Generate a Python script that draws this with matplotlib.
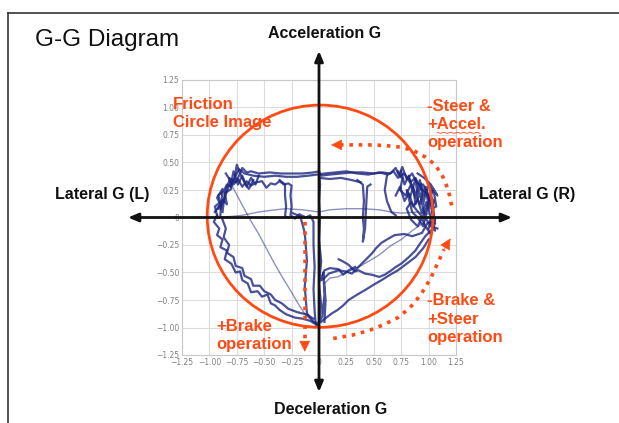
import matplotlib
matplotlib.use("Agg")
import matplotlib.pyplot as plt
from matplotlib.lines import Line2D
from matplotlib.patches import Ellipse

# ── chart values (G units) ──────────────────────────────────────────
TICKS = [-1.25, -1.0, -0.75, -0.5, -0.25, 0.0, 0.25, 0.5, 0.75, 1.0, 1.25]
TICK_LABELS = ["\u22121.25", "\u22121.00", "\u22120.75", "\u22120.50", "\u22120.25", "0",
               "0.25", "0.50", "0.75", "1.00", "1.25"]

# hand-traced pieces of the logged G-G trace
UPPER_LOOP = [(-0.93, 0.02), (-0.95, 0.10), (-0.90, 0.14), (-0.92, 0.20), (-0.87, 0.24),
              (-0.84, 0.30), (-0.80, 0.28), (-0.77, 0.36), (-0.75, 0.48), (-0.72, 0.40),
              (-0.70, 0.45), (-0.66, 0.41), (-0.62, 0.42), (-0.55, 0.40), (-0.45, 0.41),
              (-0.35, 0.40), (-0.25, 0.40), (-0.15, 0.40), (-0.05, 0.41), (0.0, 0.42),
              (0.02, 0.38), (0.10, 0.39), (0.20, 0.40), (0.30, 0.41), (0.40, 0.41),
              (0.50, 0.40), (0.58, 0.41), (0.65, 0.40), (0.70, 0.45), (0.73, 0.38),
              (0.76, 0.46), (0.80, 0.35), (0.85, 0.40), (0.90, 0.30), (0.95, 0.30),
              (1.00, 0.20), (1.05, 0.15), (1.03, 0.05), (1.06, -0.02), (1.02, -0.08),
              (1.08, -0.10)]
UPPER_LOOP2 = [(-0.90, 0.08), (-0.86, 0.18), (-0.83, 0.27), (-0.78, 0.34), (-0.73, 0.44),
               (-0.68, 0.40), (-0.60, 0.38), (-0.50, 0.37), (-0.40, 0.38), (-0.30, 0.37),
               (-0.20, 0.37), (-0.10, 0.38), (-0.02, 0.39), (0.05, 0.40), (0.15, 0.41),
               (0.25, 0.42), (0.35, 0.40), (0.45, 0.39), (0.55, 0.41), (0.63, 0.39),
               (0.68, 0.42), (0.72, 0.36), (0.78, 0.40), (0.83, 0.32), (0.88, 0.36),
               (0.93, 0.26), (0.98, 0.22), (1.02, 0.12), (1.04, 0.0)]
MID_BAND = [(-0.88, 0.05), (-0.86, 0.22), (-0.82, 0.33), (-0.78, 0.30), (-0.74, 0.35),
            (-0.70, 0.28), (-0.66, 0.33), (-0.62, 0.29), (-0.57, 0.32), (-0.52, 0.33),
            (-0.48, 0.27), (-0.44, 0.31), (-0.40, 0.30), (-0.36, 0.33), (-0.32, 0.30),
            (-0.28, 0.31), (-0.25, 0.29), (-0.26, 0.20), (-0.25, 0.10), (-0.26, 0.02),
            (-0.22, -0.01), (-0.18, 0.03), (-0.12, 0.00), (-0.08, 0.02), (-0.05, -0.04),
            (-0.05, -0.25), (-0.04, -0.45), (-0.05, -0.65), (-0.04, -0.85), (-0.03, -0.97),
            (0.0, -0.99)]
LEFT_STEP = [(-0.36, 0.34), (-0.31, 0.30), (-0.31, 0.20), (-0.30, 0.10), (-0.31, 0.01),
             (-0.28, 0.0)]
LOW_ARC = [(-0.92, 0.00), (-0.80, 0.01), (-0.70, 0.02), (-0.55, 0.05), (-0.40, 0.07),
           (-0.30, 0.08), (-0.15, 0.07), (0.0, 0.05), (0.10, 0.07), (0.25, 0.08),
           (0.40, 0.08), (0.55, 0.07), (0.66, 0.05), (0.75, 0.04), (0.90, 0.05), (1.0, 0.03)]
DIAGONAL = [(-0.80, 0.30), (-0.72, 0.15), (-0.64, 0.0), (-0.55, -0.15), (-0.47, -0.30),
            (-0.40, -0.43), (-0.33, -0.55), (-0.25, -0.68), (-0.18, -0.80), (-0.12, -0.89),
            (-0.06, -0.94), (0.0, -0.96)]
LEFT_OUTER = [(-0.93, 0.02), (-0.96, -0.04), (-0.91, -0.10), (-0.93, -0.16), (-0.88, -0.20),
              (-0.90, -0.27), (-0.84, -0.30), (-0.86, -0.38), (-0.80, -0.42), (-0.76, -0.50),
              (-0.72, -0.49), (-0.70, -0.57), (-0.65, -0.60), (-0.62, -0.68), (-0.56, -0.67),
              (-0.52, -0.72), (-0.47, -0.70), (-0.44, -0.78), (-0.40, -0.80), (-0.36, -0.84),
              (-0.30, -0.88), (-0.22, -0.91), (-0.15, -0.92), (-0.08, -0.94), (-0.03, -0.97),
              (0.0, -1.0)]
LEFT_INNER = [(-0.88, -0.02), (-0.85, -0.10), (-0.87, -0.18), (-0.82, -0.25), (-0.84, -0.32),
              (-0.78, -0.36), (-0.76, -0.44), (-0.70, -0.46), (-0.68, -0.53), (-0.62, -0.56),
              (-0.60, -0.62), (-0.54, -0.62), (-0.50, -0.67), (-0.44, -0.70), (-0.40, -0.75),
              (-0.34, -0.78), (-0.28, -0.83), (-0.20, -0.86), (-0.12, -0.88), (-0.05, -0.92)]
CENTER_SPIKE = [(0.0, 0.40), (0.01, 0.30), (0.0, 0.15), (0.01, 0.0), (0.0, -0.20),
                (0.02, -0.40), (0.0, -0.60), (0.02, -0.80), (0.0, -0.95), (0.03, -0.90),
                (0.05, -0.70), (0.04, -0.50), (0.06, -0.75), (0.05, -0.95)]
CENTER_LEFT = [(-0.24, 0.04), (-0.17, 0.01), (-0.13, -0.14), (-0.11, -0.39), (-0.13, -0.63),
               (-0.11, -0.87), (-0.05, -0.95), (0.0, -0.97)]
CENTER_BUMP = [(0.02, -0.55), (0.05, -0.48), (0.10, -0.46), (0.18, -0.47), (0.22, -0.52),
               (0.27, -0.48), (0.33, -0.45)]
RIGHT_A = [(1.05, -0.05), (0.99, -0.05), (0.94, -0.14), (0.85, -0.17), (0.78, -0.15),
           (0.69, -0.16), (0.62, -0.20), (0.57, -0.23), (0.52, -0.28), (0.48, -0.33),
           (0.43, -0.38), (0.39, -0.42), (0.34, -0.47), (0.30, -0.51), (0.24, -0.49),
           (0.18, -0.48), (0.12, -0.50), (0.09, -0.51), (0.05, -0.55), (0.02, -0.57)]
RIGHT_B = [(1.02, -0.12), (0.97, -0.17), (0.92, -0.24), (0.88, -0.30), (0.82, -0.36),
           (0.75, -0.42), (0.70, -0.45), (0.66, -0.48), (0.60, -0.52), (0.55, -0.54),
           (0.48, -0.52), (0.42, -0.51), (0.36, -0.48), (0.33, -0.49), (0.27, -0.43),
           (0.22, -0.40), (0.18, -0.38)]
RIGHT_C = [(1.00, -0.20), (0.95, -0.28), (0.88, -0.36), (0.80, -0.42), (0.72, -0.48),
           (0.65, -0.52), (0.57, -0.57), (0.50, -0.61), (0.42, -0.66), (0.35, -0.70),
           (0.27, -0.75), (0.22, -0.80), (0.17, -0.84), (0.12, -0.87), (0.08, -0.90),
           (0.04, -0.93), (0.02, -0.95)]
RIGHT_FAINT = [(0.05, -0.60), (0.10, -0.55), (0.17, -0.54), (0.25, -0.50), (0.36, -0.45),
               (0.45, -0.40), (0.55, -0.34), (0.65, -0.26), (0.75, -0.20), (0.85, -0.12),
               (0.95, -0.05)]
RIGHT_STEP = [(0.35, 0.34), (0.40, 0.30), (0.41, 0.15), (0.40, 0.0), (0.41, -0.10),
              (0.40, -0.22), (0.42, -0.10), (0.43, 0.10), (0.44, 0.28), (0.47, 0.30)]
RIGHT_STEP2 = [(0.62, 0.38), (0.60, 0.25), (0.62, 0.15), (0.66, 0.05), (0.70, 0.02)]
UPPER_RIGHT2 = [(0.0, 0.36), (0.10, 0.35), (0.20, 0.36), (0.30, 0.34), (0.38, 0.32)]
RIGHT_CLUSTER = [(0.75, 0.42), (0.78, 0.30), (0.82, 0.38), (0.85, 0.25), (0.88, 0.35),
                 (0.90, 0.20), (0.93, 0.30), (0.95, 0.12), (0.98, 0.25), (1.00, 0.08),
                 (1.03, 0.18), (1.05, 0.02), (1.02, -0.05), (1.06, -0.12), (0.98, -0.02),
                 (0.95, 0.08), (0.92, 0.22), (0.88, 0.12), (0.86, 0.28), (0.83, 0.18),
                 (0.80, 0.25), (0.85, 0.05), (0.90, 0.0), (0.95, -0.08), (1.00, 0.12),
                 (1.04, 0.26), (1.08, 0.20), (1.02, 0.30), (0.96, 0.36), (0.90, 0.40)]
RIGHT_CLUSTER2 = [(0.70, 0.20), (0.74, 0.28), (0.78, 0.15), (0.82, 0.22), (0.86, 0.10),
                  (0.90, 0.16), (0.94, 0.04), (0.98, 0.14), (1.02, 0.00), (1.00, -0.10)]
RIGHT_CLUSTER3 = [(0.72, 0.42), (0.76, 0.35), (0.74, 0.25), (0.79, 0.20), (0.84, 0.30),
                  (0.88, 0.18), (0.92, 0.34), (0.96, 0.20), (1.00, 0.30), (1.05, 0.22),
                  (1.07, 0.10), (1.03, 0.08), (1.06, -0.05), (1.02, -0.15), (0.97, -0.08),
                  (0.93, 0.02), (0.88, 0.08), (0.84, 0.14), (0.80, 0.08), (0.84, -0.02),
                  (0.90, -0.08), (0.96, 0.04), (1.01, 0.16), (0.97, 0.28), (0.92, 0.12),
                  (0.87, 0.24), (0.82, 0.36)]
LEFT_CLUSTER = [(-0.85, 0.40), (-0.80, 0.32), (-0.78, 0.42), (-0.74, 0.30), (-0.70, 0.38),
                (-0.66, 0.28), (-0.62, 0.36), (-0.58, 0.30), (-0.55, 0.38)]
LEFT_CLUSTER2 = [(-0.95, 0.05), (-0.90, 0.12), (-0.93, 0.18), (-0.88, 0.26), (-0.90, 0.02)]
LEFT_CLUSTER3 = [(-0.92, 0.08), (-0.88, 0.16), (-0.84, 0.12), (-0.86, 0.22), (-0.80, 0.26),
                 (-0.82, 0.36), (-0.76, 0.32), (-0.72, 0.40), (-0.68, 0.32), (-0.64, 0.26),
                 (-0.60, 0.34)]

DARK_TRACES = [UPPER_LOOP, UPPER_LOOP2, MID_BAND, LEFT_STEP, LEFT_OUTER, LEFT_INNER,
               CENTER_SPIKE, CENTER_LEFT, CENTER_BUMP, RIGHT_A, RIGHT_B, RIGHT_C,
               RIGHT_STEP, RIGHT_STEP2, UPPER_RIGHT2, RIGHT_CLUSTER, RIGHT_CLUSTER2,
               RIGHT_CLUSTER3, LEFT_CLUSTER, LEFT_CLUSTER2, LEFT_CLUSTER3]
FAINT_TRACES = [LOW_ARC, DIAGONAL, RIGHT_FAINT]

# friction circle (centre x, centre y, radius x, radius y)
CIRCLE = (0.01, 0.012, 1.03, 1.01)

# dotted operation arrows: path points, then the arrow tip
ARC_ACCEL = [(1.21, 0.11), (1.18, 0.25), (1.13, 0.37), (1.06, 0.48), (0.97, 0.55),
             (0.86, 0.61), (0.74, 0.64), (0.60, 0.655), (0.45, 0.66), (0.30, 0.66), (0.18, 0.66)]
ARC_ACCEL_TIP = (0.11, 0.66)
ARC_STEER = [(0.13, -1.10), (0.30, -1.07), (0.45, -1.03), (0.60, -0.97), (0.72, -0.91),
             (0.83, -0.82), (0.93, -0.70), (1.02, -0.55), (1.09, -0.40), (1.14, -0.29)]
ARC_STEER_TIP = (1.20, -0.19)
BRAKE_LINE = [(-0.13, -0.04), (-0.13, -1.13)]
BRAKE_TIP = (-0.13, -1.22)

# spell-check squiggle under "Accel"
SQUIGGLE_X = [1.08, 1.11, 1.14, 1.17, 1.20, 1.23, 1.26, 1.29, 1.32, 1.35, 1.38, 1.41, 1.44, 1.47]
SQUIGGLE_Y = [0.775, 0.765, 0.775, 0.765, 0.775, 0.765, 0.775, 0.765, 0.775, 0.765, 0.775,
              0.765, 0.775, 0.765]

RED = "#ff4a14"
NAVY = "#1c2580"

W, H = 619, 423
fig = plt.figure(figsize=(W / 100, H / 100), dpi=100)
fig.patch.set_facecolor("white")


def fx(px):
    return px / W


def fy(py):
    return 1 - py / H


ax = fig.add_axes([fx(182), fy(355), (456 - 182) / W, (355 - 80) / H])
ax.set_xlim(-1.25, 1.25)
ax.set_ylim(-1.25, 1.25)
ax.set_xticks(TICKS)
ax.set_yticks(TICKS)
ax.set_xticklabels(TICK_LABELS)
ax.set_yticklabels(TICK_LABELS)
ax.tick_params(length=0, labelsize=5.5, labelcolor="#808080", pad=2)
ax.grid(True, color="#dcdcdc", lw=0.8)
for sp in ax.spines.values():
    sp.set_color("#c8c8c8")
    sp.set_linewidth(0.8)
ax.set_axisbelow(True)

# trace
for tr in FAINT_TRACES:
    xs, ys = zip(*tr)
    ax.plot(xs, ys, color=NAVY, lw=1.0, alpha=0.5, zorder=3)
for tr in DARK_TRACES:
    xs, ys = zip(*tr)
    ax.plot(xs, ys, color=NAVY, lw=1.6, alpha=0.8, zorder=3)

# friction circle
cx, cy, rx, ry = CIRCLE
ax.add_patch(Ellipse((cx, cy), 2 * rx, 2 * ry, fill=False, ec=RED, lw=2.0, zorder=4))

# dotted arrows
for path, tip in [(ARC_ACCEL, ARC_ACCEL_TIP), (ARC_STEER, ARC_STEER_TIP), (BRAKE_LINE, BRAKE_TIP)]:
    xs, ys = zip(*path)
    ax.plot(xs, ys, color=RED, lw=2.6, ls=(0, (1, 1.6)), clip_on=False, zorder=5)
    ax.annotate("", xy=tip, xytext=path[-1],
                arrowprops=dict(arrowstyle="-|>,head_length=0.7,head_width=0.35",
                                color=RED, lw=0.5, shrinkA=0, shrinkB=0),
                annotation_clip=False, zorder=5)

# big black axes arrows
ax.annotate("", xy=(1.761, 0.0), xytext=(-1.743, 0.0),
            arrowprops=dict(arrowstyle="<|-|>,head_length=0.6,head_width=0.25",
                            color="#111111", lw=2.0, shrinkA=0, shrinkB=0),
            annotation_clip=False, zorder=6)
ax.annotate("", xy=(0.0, 1.514), xytext=(0.0, -1.586),
            arrowprops=dict(arrowstyle="<|-|>,head_length=0.6,head_width=0.25",
                            color="#111111", lw=2.0, shrinkA=0, shrinkB=0),
            annotation_clip=False, zorder=6)

# annotations
txt = dict(color=RED, fontsize=12, fontweight="bold", family="Liberation Sans",
           ha="left", va="center", linespacing=1.28, clip_on=False, zorder=7)
ax.text(-1.33, 0.945, "Friction\nCircle Image", **txt)
ax.text(0.985, 0.845, "-Steer &\n+Accel.\noperation", **txt)
ax.text(0.985, -0.923, "-Brake &\n+Steer\noperation", **txt)
ax.text(-0.94, -1.07, "+Brake\noperation", **txt)
ax.plot(SQUIGGLE_X, SQUIGGLE_Y, color=RED, lw=0.6, clip_on=False, zorder=7)

lab = dict(color="#111111", fontsize=11.5, fontweight="bold", family="Liberation Sans",
           ha="center", va="center")
fig.text(fx(325), fy(34), "Acceleration G", **lab)
fig.text(fx(331), fy(409), "Deceleration G", **lab)
fig.text(fx(102), fy(194), "Lateral G (L)", **lab)
fig.text(fx(527), fy(194), "Lateral G (R)", **lab)
fig.text(fx(35), fy(40), "G-G Diagram", color="#111111", fontsize=17.5,
         family="Liberation Sans", ha="left", va="center")

# slide frame
fig.add_artist(Line2D([fx(8), 1.0], [fy(13), fy(13)], color="#333333", lw=1.2))
fig.add_artist(Line2D([fx(8), fx(8)], [fy(13), 0.0], color="#333333", lw=1.2))

fig.savefig("out.png", dpi=100)
